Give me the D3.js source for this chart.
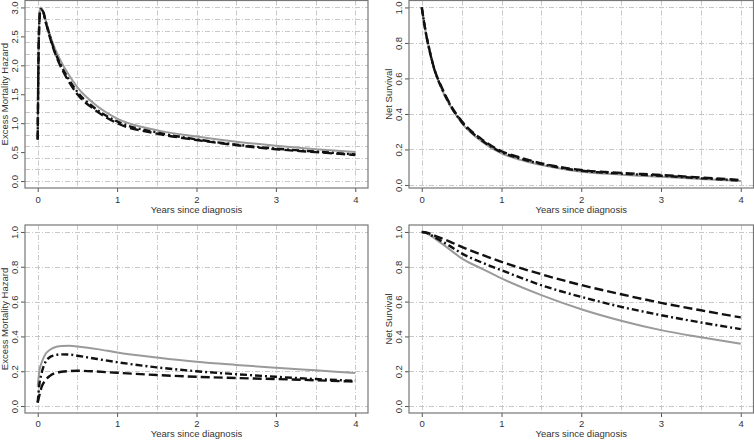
<!DOCTYPE html>
<html>
<head>
<meta charset="utf-8">
<script src="https://cdn.jsdelivr.net/npm/d3@7"></script>
<style>
  body { margin: 0; background: #fff; }
  svg text { font-family: "Liberation Sans", Arial, sans-serif; fill: #333; }
</style>
</head>
<body>
<div id="chart"></div>
<script>
// time points (years since diagnosis) and values
var timeHazTop = [0, 0.01, 0.02, 0.035, 0.06, 0.1, 0.15, 0.2, 0.3, 0.4, 0.5, 0.7, 1.0, 1.5, 2, 2.5, 3, 3.5, 4];
var hazTopSolid = [0.72, 2.2, 2.8, 3.0, 2.95, 2.78, 2.55, 2.35, 2.05, 1.82, 1.62, 1.35, 1.08, 0.88, 0.77, 0.68, 0.61, 0.55, 0.5];
var hazTopDotDash = [0.72, 2.15, 2.75, 2.97, 2.96, 2.76, 2.52, 2.3, 1.98, 1.74, 1.54, 1.28, 1.03, 0.84, 0.72, 0.63, 0.56, 0.51, 0.46];
var hazTopDash = [0.72, 2.1, 2.7, 2.95, 2.95, 2.75, 2.5, 2.28, 1.95, 1.7, 1.5, 1.25, 1.0, 0.82, 0.71, 0.62, 0.55, 0.5, 0.45];

var timeSurvTop = [0, 0.05, 0.1, 0.15, 0.25, 0.35, 0.5, 0.75, 1, 1.25, 1.5, 2, 2.5, 3, 3.5, 4];
var survTopSolid = [1, 0.86, 0.75, 0.66, 0.54, 0.45, 0.35, 0.245, 0.178, 0.14, 0.112, 0.075, 0.058, 0.046, 0.033, 0.022];
var survTopDotDash = [1, 0.86, 0.752, 0.663, 0.545, 0.455, 0.355, 0.252, 0.185, 0.147, 0.118, 0.08, 0.064, 0.052, 0.038, 0.025];
var survTopDash = [1, 0.86, 0.755, 0.665, 0.55, 0.46, 0.36, 0.258, 0.19, 0.152, 0.122, 0.084, 0.068, 0.056, 0.042, 0.028];

var timeHazBot = [0, 0.02, 0.05, 0.1, 0.15, 0.2, 0.3, 0.4, 0.5, 0.75, 1, 1.5, 2, 2.5, 3, 3.5, 4];
var hazBotSolid = [0.11, 0.2, 0.25, 0.3, 0.322, 0.335, 0.345, 0.346, 0.342, 0.327, 0.308, 0.279, 0.254, 0.236, 0.22, 0.205, 0.19];
var hazBotDotDash = [0.02, 0.12, 0.19, 0.255, 0.28, 0.29, 0.297, 0.296, 0.289, 0.27, 0.252, 0.222, 0.2, 0.183, 0.168, 0.155, 0.145];
var hazBotDash = [0.02, 0.06, 0.11, 0.15, 0.172, 0.186, 0.197, 0.201, 0.203, 0.198, 0.191, 0.178, 0.168, 0.161, 0.155, 0.148, 0.14];

var timeSurvBot = [0, 0.05, 0.1, 0.2, 0.35, 0.5, 0.75, 1, 1.5, 2, 2.5, 3, 3.5, 4];
var survBotSolid = [1, 0.995, 0.982, 0.95, 0.9, 0.848, 0.79, 0.733, 0.637, 0.556, 0.49, 0.436, 0.395, 0.358];
var survBotDotDash = [1, 0.996, 0.986, 0.96, 0.92, 0.877, 0.825, 0.78, 0.694, 0.627, 0.57, 0.522, 0.48, 0.442];
var survBotDash = [1, 0.998, 0.99, 0.972, 0.945, 0.914, 0.87, 0.828, 0.757, 0.695, 0.642, 0.593, 0.55, 0.509];

var xTickValues = [0, 1, 2, 3, 4];
var xTitle = "Years since diagnosis";

// R style axis padding (4% each side)
function pad(ext) {
  var d = (ext[1] - ext[0]) * 0.04;
  return [ext[0] - d, ext[1] + d];
}

var width = 754, height = 440;

var svg = d3.select("#chart").append("svg")
  .attr("width", width)
  .attr("height", height);

var panels = [
  { x0: 25, x1: 368, y0: 0.5, y1: 188, labDy: 15, titleDy: 25,
    yDomain: pad([0, 3]), yTicks: d3.range(0, 3.01, 0.5), yGrid: d3.range(0, 3.01, 0.2),
    yTitle: "Excess Mortality Hazard", t: timeHazTop,
    series: [hazTopSolid, hazTopDotDash, hazTopDash] },
  { x0: 409, x1: 753.5, y0: 0.5, y1: 188, labDy: 15, titleDy: 25,
    yDomain: pad(d3.extent(survTopSolid.concat(survTopDotDash, survTopDash))),
    yTicks: d3.range(0, 1.01, 0.2), yGrid: d3.range(0, 1.01, 0.2),
    yTitle: "Net Survival", t: timeSurvTop,
    series: [survTopSolid, survTopDotDash, survTopDash] },
  { x0: 25, x1: 368, y0: 225, y1: 413, labDy: 13.5, titleDy: 23.5,
    yDomain: pad([0, 1]), yTicks: d3.range(0, 1.01, 0.2), yGrid: d3.range(0, 1.01, 0.2),
    yTitle: "Excess Mortality Hazard", t: timeHazBot,
    series: [hazBotSolid, hazBotDotDash, hazBotDash] },
  { x0: 409, x1: 753.5, y0: 225, y1: 413, labDy: 13.5, titleDy: 23.5,
    yDomain: pad([0, 1]), yTicks: d3.range(0, 1.01, 0.2), yGrid: d3.range(0, 1.01, 0.2),
    yTitle: "Net Survival", t: timeSurvBot,
    series: [survBotSolid, survBotDotDash, survBotDash] }
];

// line styles: grey solid, black dot-dash, black long dash
var styles = [
  { stroke: "#9a9a9a", width: 2, dash: null },
  { stroke: "#111", width: 2.4, dash: "7,3,2,3" },
  { stroke: "#111", width: 2.4, dash: "9,4" }
];

panels.forEach(function (p, i) {
  var x = d3.scaleLinear().domain(pad([0, 4])).range([p.x0, p.x1]);
  var y = d3.scaleLinear().domain(p.yDomain).range([p.y1, p.y0]);

  var g = svg.append("g");

  // clip to the plot box
  g.append("clipPath").attr("id", "clip" + i)
    .append("rect")
    .attr("x", p.x0).attr("y", p.y0)
    .attr("width", p.x1 - p.x0).attr("height", p.y1 - p.y0);

  // grid
  var grid = g.append("g")
    .attr("stroke", "#c8c8c8")
    .attr("stroke-width", 1)
    .attr("stroke-dasharray", "5,2,1,2")
    .attr("clip-path", "url(#clip" + i + ")");
  grid.selectAll(".vg").data(d3.range(0, 4.01, 0.5)).enter().append("line")
    .attr("x1", function (d) { return Math.round(x(d)) + 0.5; })
    .attr("x2", function (d) { return Math.round(x(d)) + 0.5; })
    .attr("y1", p.y0).attr("y2", p.y1);
  grid.selectAll(".hg").data(p.yGrid).enter().append("line")
    .attr("y1", function (d) { return Math.round(y(d)) + 0.5; })
    .attr("y2", function (d) { return Math.round(y(d)) + 0.5; })
    .attr("x1", p.x0).attr("x2", p.x1);

  // curves
  var curves = g.append("g").attr("clip-path", "url(#clip" + i + ")");
  p.series.forEach(function (vals, k) {
    var pts = p.t.map(function (t, j) { return [t, vals[j]]; });
    var line = d3.line()
      .x(function (d) { return x(d[0]); })
      .y(function (d) { return y(d[1]); })
      .curve(d3.curveMonotoneX);
    curves.append("path")
      .datum(pts)
      .attr("fill", "none")
      .attr("stroke", styles[k].stroke)
      .attr("stroke-width", styles[k].width)
      .attr("stroke-dasharray", styles[k].dash)
      .attr("d", line);
  });

  // x axis
  var xa = g.append("g")
    .attr("transform", "translate(0," + p.y1 + ")")
    .call(d3.axisBottom(x).tickValues(xTickValues).tickSize(4).tickFormat(d3.format("d")));
  xa.select(".domain").remove();
  xa.selectAll(".tick line").attr("stroke", "#555");
  xa.selectAll(".tick text")
    .attr("y", p.labDy).attr("dy", null)
    .style("font-size", "9.5px").style("fill", "#333");

  // y axis with rotated labels
  var ya = g.append("g")
    .attr("transform", "translate(" + p.x0 + ",0)")
    .call(d3.axisLeft(y).tickValues(p.yTicks).tickSize(4).tickFormat(d3.format(".1f")));
  ya.select(".domain").remove();
  ya.selectAll(".tick line").attr("stroke", "#555");
  ya.selectAll(".tick text")
    .attr("x", null).attr("dy", null)
    .attr("text-anchor", "middle")
    .attr("transform", "translate(-7.5,0) rotate(-90)")
    .style("font-size", "9.5px").style("fill", "#333");

  // box
  g.append("rect")
    .attr("x", p.x0).attr("y", p.y0)
    .attr("width", p.x1 - p.x0).attr("height", p.y1 - p.y0)
    .attr("fill", "none")
    .attr("stroke", "#777")
    .attr("stroke-width", 1.2);

  // axis titles
  g.append("text")
    .attr("x", (p.x0 + p.x1) / 2)
    .attr("y", p.y1 + p.titleDy)
    .attr("text-anchor", "middle")
    .style("font-size", "9.5px")
    .text(xTitle);

  g.append("text")
    .attr("transform", "translate(" + (p.x0 - 17.5) + "," + ((p.y0 + p.y1) / 2) + ") rotate(-90)")
    .attr("text-anchor", "middle")
    .style("font-size", "9.5px")
    .text(p.yTitle);
});
</script>
</body>
</html>
